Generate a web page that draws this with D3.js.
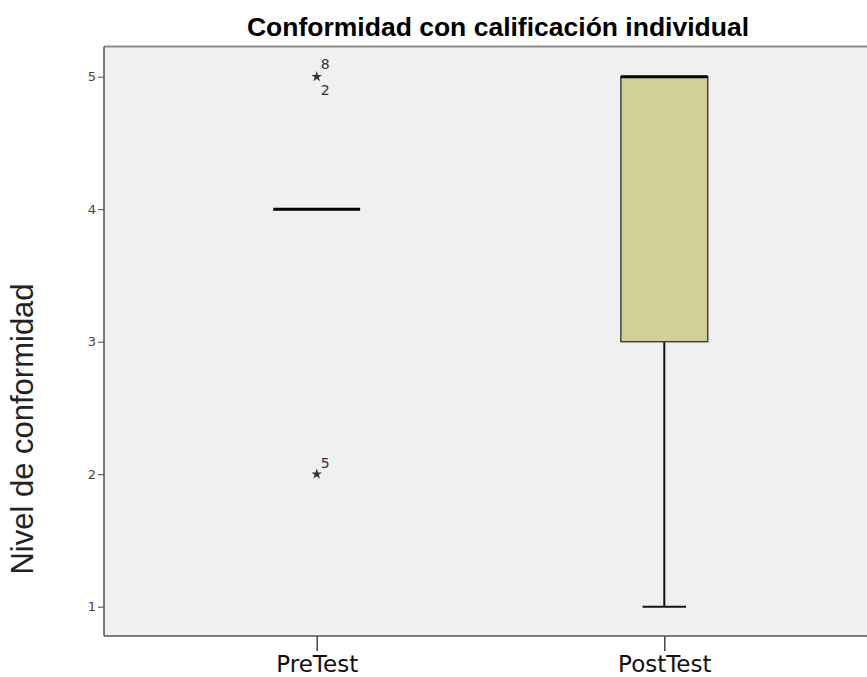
<!DOCTYPE html>
<html>
<head>
<meta charset="utf-8">
<script src="https://cdn.jsdelivr.net/npm/d3@7"></script>
<style>
  body { margin: 0; background: #fff; }
</style>
</head>
<body>
<div id="chart"></div>
<script>
// data
const groups = ["PreTest", "PostTest"];
const q1 = [4, 3];
const medians = [4, 5];
const q3 = [4, 5];
const whiskerLow = [4, 1];
const whiskerHigh = [4, 5];
const outlierGroup = ["PreTest", "PreTest"];
const outlierValues = [5, 2];
const outlierCases = [["8", "2"], ["5"]];
const yTicks = [1, 2, 3, 4, 5];

const width = 867, height = 677;
const plot = {left: 104, right: 877, top: 46.5, bottom: 636};

let svg = d3.select("#chart")
  .append("svg")
  .attr("width", width)
  .attr("height", height);

let x = d3.scalePoint()
  .domain(groups)
  .range([plot.left, plot.right])
  .padding(0.612);

let y = d3.scaleLinear()
  .domain([1, 5])
  .range([606.7, 76.7]);

const boxW = x.step() * 0.25;

// plot background
svg.append("rect")
  .attr("x", plot.left)
  .attr("y", plot.top)
  .attr("width", plot.right - plot.left)
  .attr("height", plot.bottom - plot.top)
  .attr("fill", "#f0f0f0");

// top frame line
svg.append("line")
  .attr("x1", plot.left).attr("x2", plot.right)
  .attr("y1", plot.top).attr("y2", plot.top)
  .attr("stroke", "#8a8a8a").attr("stroke-width", 2);

// y axis
let yAxis = svg.append("g")
  .attr("transform", `translate(${plot.left},0)`)
  .call(d3.axisLeft(y).tickValues(yTicks).tickSize(6).tickPadding(2).tickFormat(d3.format("d")));
yAxis.select(".domain").remove();
yAxis.selectAll(".tick line").attr("stroke", "#444");
yAxis.selectAll("text")
  .style("font-family", "'DejaVu Sans', sans-serif")
  .style("font-size", "13px")
  .attr("fill", "#444");

svg.append("line")
  .attr("x1", plot.left).attr("x2", plot.left)
  .attr("y1", plot.top).attr("y2", plot.bottom)
  .attr("stroke", "#555").attr("stroke-width", 1.5);

// x axis
let xAxis = svg.append("g")
  .attr("transform", `translate(0,${plot.bottom})`)
  .call(d3.axisBottom(x).tickSize(15).tickPadding(5));
xAxis.select(".domain").remove();
xAxis.selectAll(".tick line").attr("stroke", "#444").attr("stroke-width", 1.5);
xAxis.selectAll("text")
  .style("font-family", "'DejaVu Sans', sans-serif")
  .style("font-size", "23px")
  .attr("fill", "#111");

svg.append("line")
  .attr("x1", plot.left).attr("x2", plot.right)
  .attr("y1", plot.bottom).attr("y2", plot.bottom)
  .attr("stroke", "#555").attr("stroke-width", 1.5);

// boxes
let boxes = svg.selectAll(".box")
  .data(groups)
  .enter().append("g")
  .attr("class", "box");

// whisker stems and caps
boxes.filter(function(d, i) { return whiskerLow[i] < q1[i]; })
  .append("line")
  .attr("x1", function(d) { return x(d); })
  .attr("x2", function(d) { return x(d); })
  .attr("y1", function(d) { return y(whiskerLow[groups.indexOf(d)]); })
  .attr("y2", function(d) { return y(q1[groups.indexOf(d)]); })
  .attr("stroke", "#111").attr("stroke-width", 2);

boxes.filter(function(d, i) { return whiskerLow[i] < q1[i]; })
  .append("line")
  .attr("x1", function(d) { return x(d) - boxW / 4; })
  .attr("x2", function(d) { return x(d) + boxW / 4; })
  .attr("y1", function(d) { return y(whiskerLow[groups.indexOf(d)]); })
  .attr("y2", function(d) { return y(whiskerLow[groups.indexOf(d)]); })
  .attr("stroke", "#111").attr("stroke-width", 2);

boxes.filter(function(d, i) { return q3[i] > q1[i]; })
  .append("rect")
  .attr("x", function(d) { return x(d) - boxW / 2; })
  .attr("y", function(d) { return y(q3[groups.indexOf(d)]); })
  .attr("width", boxW)
  .attr("height", function(d) { let i = groups.indexOf(d); return y(q1[i]) - y(q3[i]); })
  .attr("fill", "#d2cf97")
  .attr("stroke", "#444")
  .attr("stroke-width", 1.5);

// medians
boxes.append("line")
  .attr("x1", function(d) { return x(d) - boxW / 2; })
  .attr("x2", function(d) { return x(d) + boxW / 2; })
  .attr("y1", function(d) { return y(medians[groups.indexOf(d)]); })
  .attr("y2", function(d) { return y(medians[groups.indexOf(d)]); })
  .attr("stroke", "#000").attr("stroke-width", 3);

// extreme outliers (stars) with case labels
let star = d3.symbol().type(d3.symbolStar).size(36);
outlierValues.forEach(function(v, i) {
  let cx = x(outlierGroup[i]), cy = y(v);
  svg.append("path")
    .attr("d", star)
    .attr("transform", `translate(${cx},${cy})`)
    .attr("fill", "#333");
  let labels = outlierCases[i];
  let offsets = labels.length > 1 ? [-13, 13] : [-11];
  labels.forEach(function(t, j) {
    svg.append("text")
      .attr("x", cx + 4)
      .attr("y", cy + offsets[j] + 5)
      .style("font-family", "'DejaVu Sans', sans-serif")
      .style("font-size", "14px")
      .attr("fill", "#333")
      .text(t);
  });
});

// title
svg.append("text")
  .attr("x", 498)
  .attr("y", 36)
  .style("text-anchor", "middle")
  .style("font-family", "'Liberation Sans', Arial, sans-serif")
  .style("font-weight", "bold")
  .style("font-size", "26.5px")
  .attr("fill", "#000")
  .text("Conformidad con calificación individual");

// y axis label
svg.append("text")
  .attr("transform", `translate(33, 429) rotate(-90)`)
  .style("text-anchor", "middle")
  .style("font-family", "'Liberation Sans', Arial, sans-serif")
  .style("font-size", "31px")
  .attr("fill", "#222")
  .text("Nivel de conformidad");
</script>
</body>
</html>
